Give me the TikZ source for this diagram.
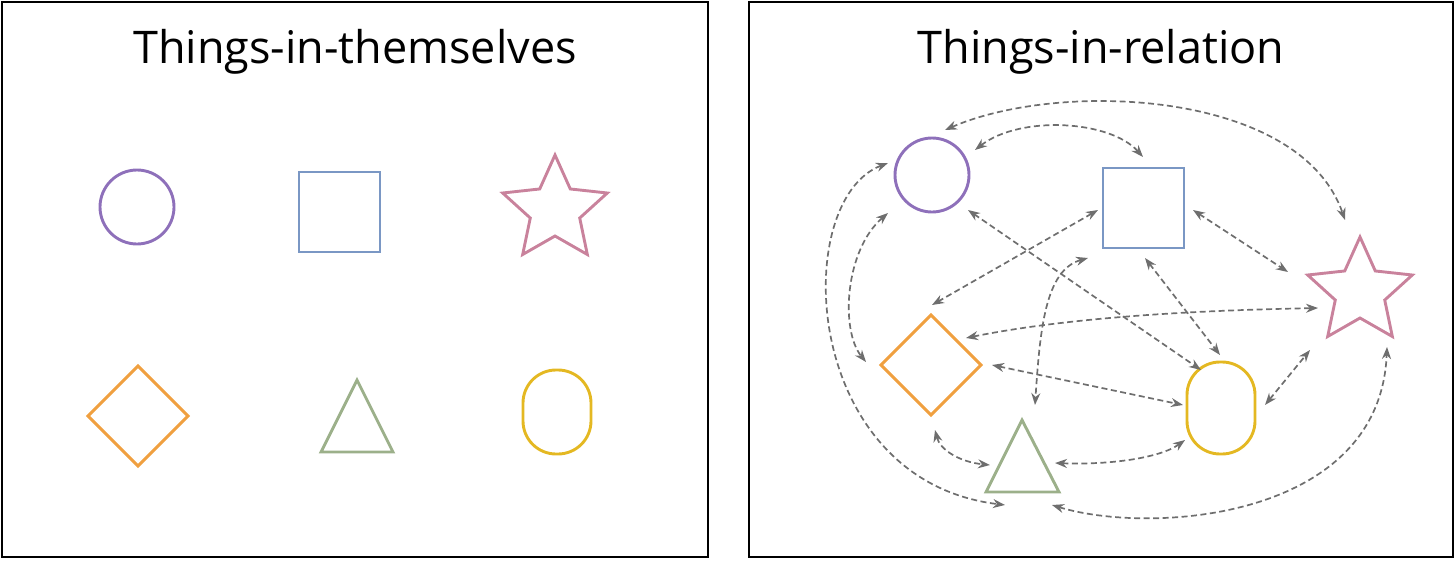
\documentclass[tikz,border=0pt]{standalone}
\usepackage{fontspec}
\setmainfont{Open Sans}
\usetikzlibrary{arrows.meta}
\definecolor{cpur}{HTML}{8E70BA}
\definecolor{cblu}{HTML}{7A97C4}
\definecolor{cpin}{HTML}{C9829C}
\definecolor{cora}{HTML}{F0A040}
\definecolor{cgre}{HTML}{9CB08A}
\definecolor{cyel}{HTML}{E4B822}
\definecolor{carr}{HTML}{6E6E6E}
\newcommand\mystar[3]{\draw[#3] ([shift={(#1,#2)}]-90:55) \foreach \i in {1,...,9}{ -- ([shift={(#1,#2)}]{-90+36*\i}:{26+29*(1-mod(\i,2))})} -- cycle;}
\newcommand\mydiam[3]{\draw[#3] (#1,#2-50) -- (#1+50,#2) -- (#1,#2+50) -- (#1-50,#2) -- cycle;}
\begin{document}
\begin{tikzpicture}[x=1pt,y=-1pt,
  shp/.style={line width=2.9pt,line join=miter},
  rel/.style={draw=carr,line width=1.7pt,dash pattern=on 6pt off 3.5pt,{Stealth[length=12pt,width=9pt]}-{Stealth[length=12pt,width=9pt]}},
  ttl/.style={font=\fontsize{45}{50}\selectfont}]
\useasboundingbox (0,0) rectangle (1456,560);
\draw[line width=2.2pt] (2,2) rectangle (708,557);
\draw[line width=2.2pt] (749,2) rectangle (1453,557);
\node[ttl] (t1) at (355,52) {Things-in-themselves};
\node[ttl] (t2) at (1101,52) {Things-in-relation};
% left shapes
\draw[shp,cpur] (137,207) circle (37);
\draw[shp,cblu] (299,172) rectangle (380,252);
\mystar{555}{210}{shp,cpin}
\mydiam{138}{416}{shp,cora}
\draw[shp,cgre] (321,452) -- (393,452) -- (357,380) -- cycle;
\draw[shp,cyel,rounded corners=33] (523,370) rectangle (591,454);
% right shapes
\draw[shp,cpur] (932,175) circle (37);
\draw[shp,cblu] (1103,168) rectangle (1184,248);
\mystar{1360}{292}{shp,cpin}
\mydiam{931}{365}{shp,cora}
\draw[shp,cgre] (986,492) -- (1059,492) -- (1022,420) -- cycle;
\draw[shp,cyel,rounded corners=33] (1187,362) rectangle (1255,454);
% relations
\coordinate (a1) at (945,130); \coordinate (b1) at (1345,220);
\coordinate (a2) at (975,150); \coordinate (b2) at (1143,157);
\coordinate (a3) at (888,163); \coordinate (b3) at (1005,505);
\coordinate (a4) at (888,213); \coordinate (b4) at (866,362);
\coordinate (a5) at (968,210); \coordinate (b5) at (1201,370);
\coordinate (a6) at (1098,210); \coordinate (b6) at (932,305);
\coordinate (a7) at (1088,258); \coordinate (b7) at (1035,405);
\coordinate (a8) at (1193,210); \coordinate (b8) at (1288,272);
\coordinate (a9) at (1145,258); \coordinate (b9) at (1220,355);
\coordinate (a10) at (966,338); \coordinate (b10) at (1318,308);
\coordinate (a11) at (992,365); \coordinate (b11) at (1183,405);
\coordinate (a12) at (935,430); \coordinate (b12) at (990,465);
\coordinate (a13) at (1055,463); \coordinate (b13) at (1185,440);
\coordinate (a14) at (1052,505); \coordinate (b14) at (1387,347);
\coordinate (a15) at (1265,405); \coordinate (b15) at (1310,350);
\draw[rel] (a1) .. controls (1060,80) and (1300,90) .. (b1);
\draw[rel] (a2) .. controls (1020,115) and (1110,120) .. (b2);
\draw[rel] (a3) .. controls (790,200) and (800,480) .. (b3);
\draw[rel] (a4) .. controls (845,250) and (840,330) .. (b4);
\draw[rel] (a5) -- (b5);
\draw[rel] (a6) -- (b6);
\draw[rel] (a7) .. controls (1045,270) and (1040,330) .. (b7);
\draw[rel] (a8) -- (b8);
\draw[rel] (a9) -- (b9);
\draw[rel] (a10) .. controls (1080,315) and (1220,310) .. (b10);
\draw[rel] (a11) -- (b11);
\draw[rel] (a12) .. controls (940,450) and (960,462) .. (b12);
\draw[rel] (a13) .. controls (1110,465) and (1160,458) .. (b13);
\draw[rel] (a14) .. controls (1150,535) and (1380,520) .. (b14);
\draw[rel] (a15) -- (b15);
\end{tikzpicture}
\end{document}
